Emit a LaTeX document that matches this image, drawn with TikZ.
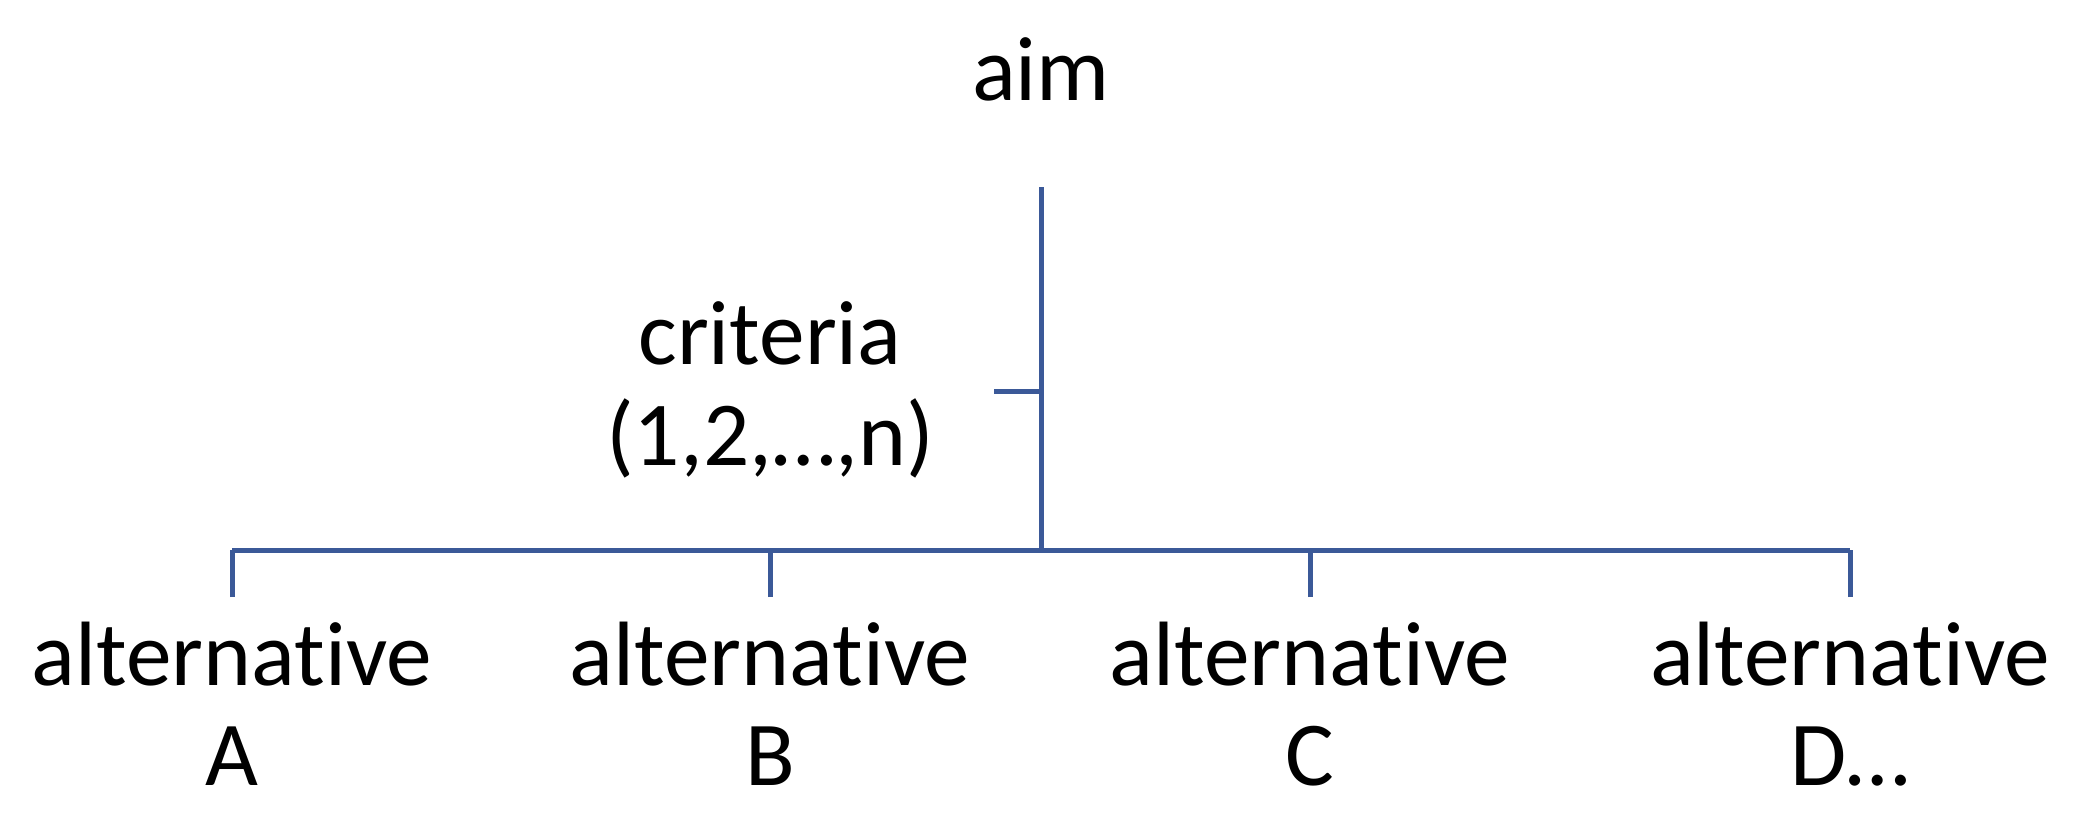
\documentclass[tikz,border=0pt]{standalone}
\usepackage{fontspec}
\setmainfont[Ligatures=CommonOff]{Carlito}
\usepackage{tikz}
\usetikzlibrary{positioning}
\definecolor{linkblue}{RGB}{59,89,152}

\begin{document}
\begin{tikzpicture}[link/.style={draw=linkblue,line width=1.42pt},
        lbl/.style={font=\fontsize{26}{28.5}\selectfont,align=center,inner sep=0pt}]
        \useasboundingbox (0,0) rectangle (20.82,8.30);
        \node[lbl,anchor=base] (aim) at (10.41,7.30) {aim};
        \node[lbl,anchor=base] (crit) at (7.70,3.65) {criteria\\(1,2,…,n)};
        \node[lbl,anchor=north,inner ysep=0.24cm] (altA) at (2.32,2.33) {alternative\\A};
        \node[lbl,anchor=north,inner ysep=0.24cm] (altB) at (7.70,2.33) {alternative\\B};
        \node[lbl,anchor=north,inner ysep=0.24cm] (altC) at (13.10,2.33) {alternative\\C};
        \node[lbl,anchor=north,inner ysep=0.24cm] (altD) at (18.50,2.33) {alternative\\D…};
        \coordinate (top) at (10.41,6.43);
        \coordinate (hub) at (10.41,2.80);
        \coordinate (tick) at (9.94,4.39);

        \draw[link] (top) -- (hub);
        \draw[link] (tick) -- (tick -| hub);
        \draw[link] (altA.north |- hub) -- (altD.north |- hub);
        \draw[link] (altA.north) -- (altA.north |- hub);
        \draw[link] (altB.north) -- (altB.north |- hub);
        \draw[link] (altC.north) -- (altC.north |- hub);
        \draw[link] (altD.north) -- (altD.north |- hub);
\end{tikzpicture}
\end{document}
